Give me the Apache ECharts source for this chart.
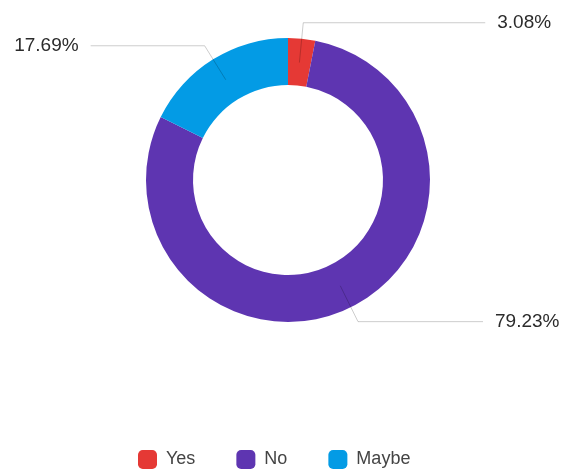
<!DOCTYPE html>
<html>
<head>
<meta charset="utf-8">
<script src="https://cdn.jsdelivr.net/npm/echarts@6/dist/echarts.min.js"></script>
<style>
  html, body { margin: 0; padding: 0; background: #fff; }
  #chart { width: 566px; height: 474px; }
</style>
</head>
<body>
<div id="chart"></div>
<script>
// Survey answers and their shares (percent)
const categories = ['Yes', 'No', 'Maybe'];
const shares = [3.08, 79.23, 17.69];
const colors = ['#E53935', '#5E35B1', '#039BE5'];
// horizontal run of each label's leader line
const leaderRuns = [182, 125, 114];

const FONT = '"Liberation Sans", Arial, Helvetica, sans-serif';
const CENTER = [288, 180];

const ringData = categories.map((name, i) => ({
  name: name,
  value: shares[i],
  itemStyle: { color: colors[i] }
}));

// invisible companion pie drawn above the ring: carries the outside labels,
// so their leader lines start in the middle of the ring
const labelData = categories.map((name, i) => ({
  name: name,
  value: shares[i],
  labelLine: { length2: leaderRuns[i] }
}));

const chart = echarts.init(document.getElementById('chart'), null, { renderer: 'canvas' });

chart.setOption({
  animation: false,
  backgroundColor: '#ffffff',
  legend: {
    data: categories.map((name, i) => ({ name: name, itemStyle: { color: colors[i] } })),
    left: 133,
    top: 445,
    icon: 'roundRect',
    itemWidth: 19,
    itemHeight: 19,
    itemGap: 41,
    textStyle: { fontFamily: FONT, fontSize: 18, color: '#444', padding: [0, 0, 0, 4] },
    selectedMode: false
  },
  series: [
    {
      type: 'pie',
      z: 2,
      center: CENTER,
      radius: [95, 142],
      startAngle: 90,
      clockwise: true,
      silent: true,
      label: { show: false },
      labelLine: { show: false },
      emphasis: { disabled: true },
      data: ringData
    },
    {
      type: 'pie',
      z: 5,
      center: CENTER,
      radius: [0, 118],
      startAngle: 90,
      clockwise: true,
      silent: true,
      avoidLabelOverlap: false,
      itemStyle: { color: 'rgba(0,0,0,0)' },
      emphasis: { disabled: true },
      label: {
        show: true,
        position: 'outside',
        formatter: p => p.value.toFixed(2) + '%',
        fontFamily: FONT,
        fontSize: 19,
        color: '#2b2b2b',
        distanceToLabelLine: 12,
        bleedMargin: 0,
        overflow: 'none'
      },
      labelLine: {
        show: true,
        length: 40,
        smooth: false,
        lineStyle: { color: 'rgba(0,0,0,0.2)', width: 1 }
      },
      data: labelData
    }
  ]
});
</script>
</body>
</html>
